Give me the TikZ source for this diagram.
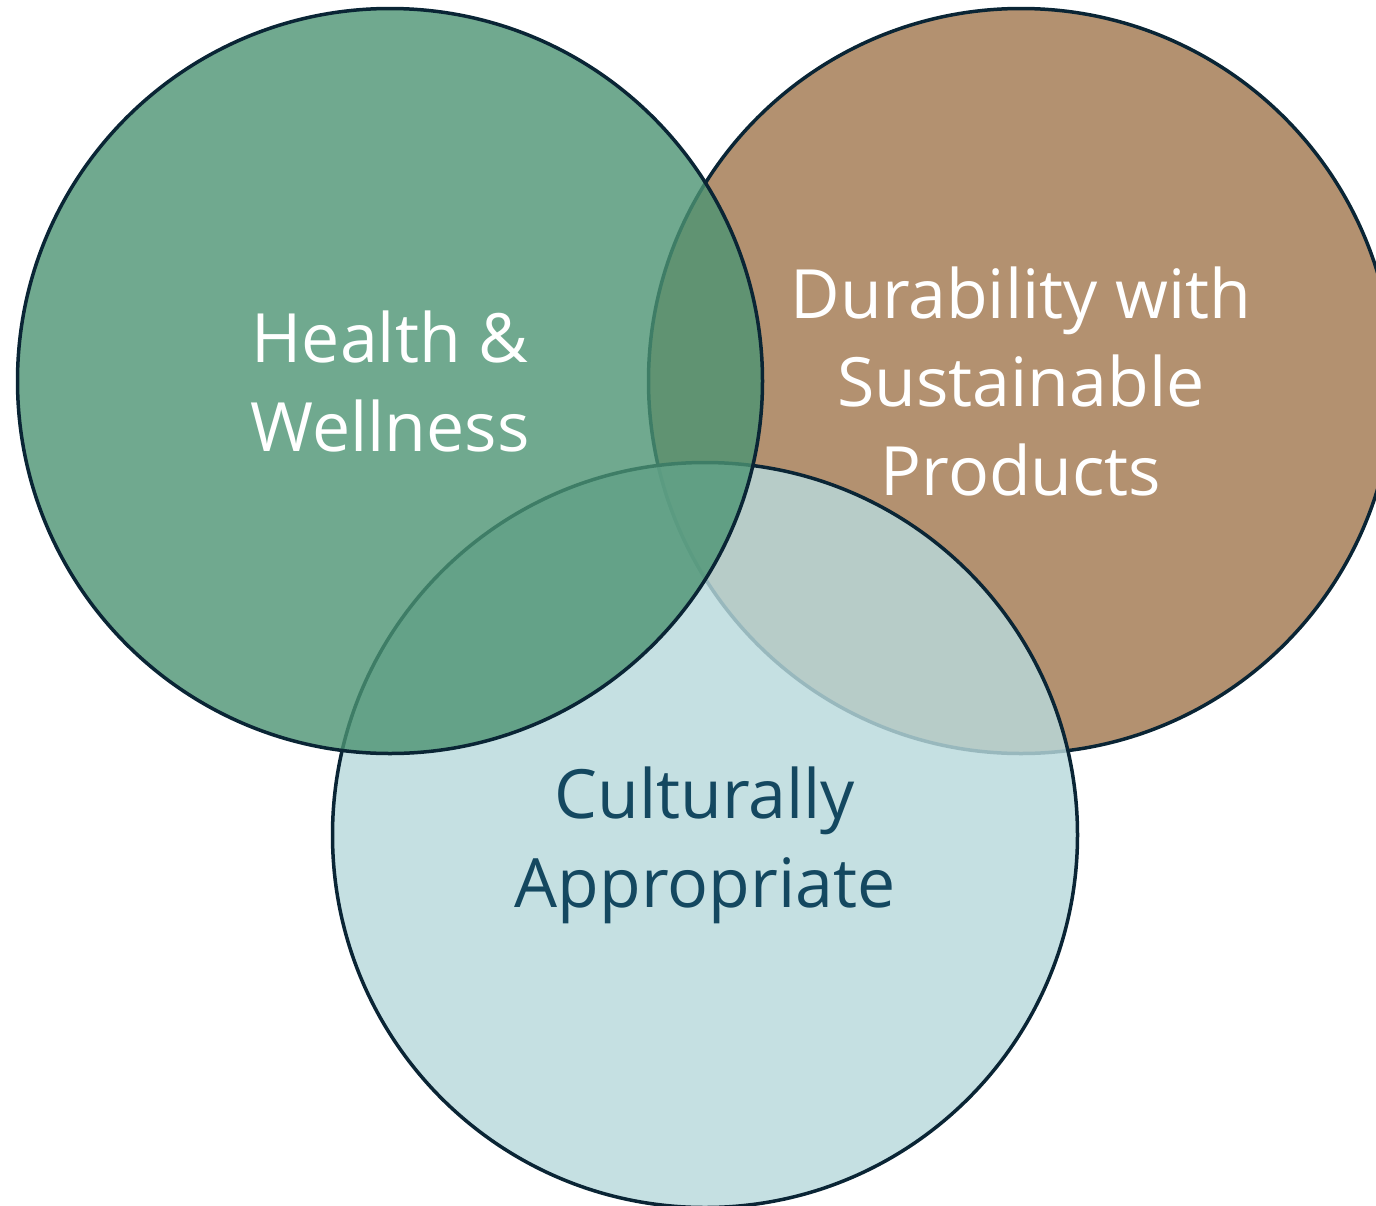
\documentclass[tikz,border=0pt]{standalone}
\usepackage{fontspec}
\setmainfont{Open Sans}
\definecolor{cgreen}{RGB}{76,148,115}
\definecolor{cbrown}{RGB}{179,145,112}
\definecolor{cblue}{RGB}{184,217,220}
\definecolor{cline}{RGB}{10,37,53}
\definecolor{ctext}{RGB}{20,72,96}
\begin{document}
\begin{tikzpicture}[x=1pt,y=-1pt,
  ring/.style={circle, draw=cline, line width=3.5pt, minimum size=745pt, inner sep=0pt},
  lbl/.style={align=center, font=\fontsize{68}{88.5}\selectfont, anchor=base, inner sep=0pt}]
\useasboundingbox (0,0) rectangle (1376,1205);
\clip (0,0) rectangle (1376,1205);
\node[ring, fill=cbrown] (brown) at (1021,381) {};
\node[ring, fill=cblue, fill opacity=0.82] (blue) at (705,835) {};
\node[ring, fill=cgreen, fill opacity=0.8] (green) at (390,381) {};
\node[lbl, text=white] (health) at (390,451) {Health \&\\Wellness};
\node[lbl, text=white] (durab) at (1021,495) {Durability with\\Sustainable\\Products};
\node[lbl, text=ctext] (cult) at (705,907) {Culturally\\Appropriate};
\end{tikzpicture}
\end{document}
